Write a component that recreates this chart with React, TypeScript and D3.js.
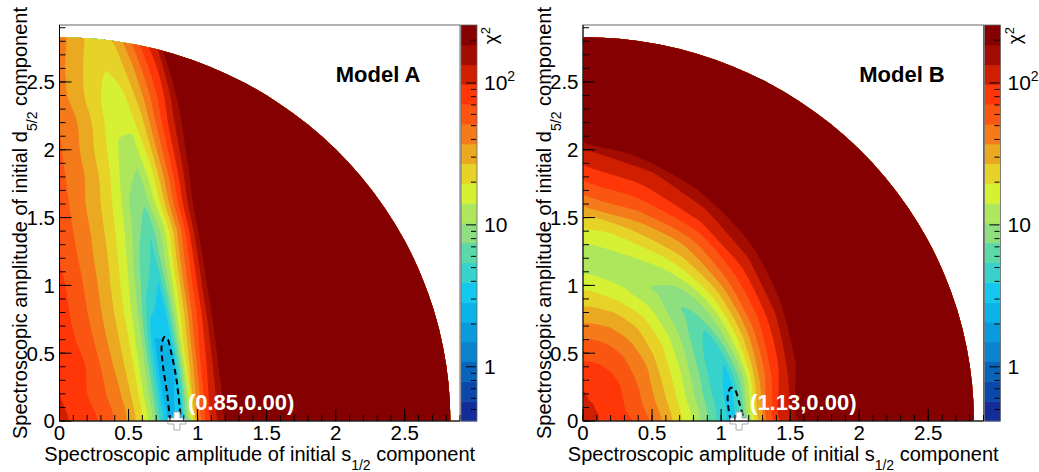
import React from 'react';
import * as d3 from 'd3';

const FONT = '"Liberation Sans", Arial, Helvetica, sans-serif';
const W = 1039;
const H = 472;

// colour scale: 20 log-spaced contour bands
const Z_MIN = 0.415;
const Z_MAX = 256;
const N_LEVELS = 20;
const PALETTE = [
  '#132c97', '#0c47ab', '#0864bb', '#0a82cc', '#0a9bdc',
  '#0cb3e7', '#14c8ef', '#36d2cb', '#5bd9a8', '#8ddf80',
  '#afe75c', '#d6f033', '#e7d327', '#eaa921', '#f47a1a',
  '#fb5512', '#fe3608', '#cf1e00', '#a30c00', '#850000',
];

// beyond the listed nodes the map is saturated (top colour)
const CHI2_SAT = 400;
const AMPLITUDE_LIMIT = 2.83; // s^2 + d^2 <= 8

// Model A: chi2 sampled on rows d = 0, 0.2 ... 3.0; along each row the nodes sit at
// s = k*0.1 - 0.18*d (rows follow the tilt of the valley)
const A_S_STEP = 0.1;
const A_D_STEP = 0.2;
const A_SHEAR = 0.18;
const modelAChi2 = [
  [112, 91, 79, 68, 50, 35, 21, 7.9, 2.0, 4.0, 37, 105, 178],
  [105, 87, 76, 63, 48, 35, 21, 8.7, 2.2, 3.3, 29, 89, 166, 380],
  [112, 93, 79, 66, 46, 33, 21, 9.5, 2.4, 2.75, 23, 74, 151, 355],
  [104, 88, 74, 62, 44, 32, 21, 10.5, 2.8, 2.9, 19, 62, 138, 316],
  [102, 85, 73, 60, 43, 32, 21, 11.5, 4.2, 3.2, 15.5, 51, 126, 295],
  [102, 87, 74, 61, 44, 33, 22, 12.9, 5.9, 3.8, 14.1, 47, 120, 295],
  [100, 86, 72, 60, 44, 34, 24, 14.5, 7.2, 4.9, 12.9, 42, 112, 282],
  [100, 87, 73, 59, 45, 35, 25, 16.2, 9.1, 5.6, 12, 36, 107, 275],
  [98, 85, 72, 60, 46, 35, 26, 17.4, 10, 7.8, 16.2, 44, 115, 275],
  [95, 83, 71, 59, 48, 38, 28, 19, 11.7, 9.5, 18.2, 45, 110, 240],
  [95, 83, 72, 60, 49, 38, 28, 20, 13.5, 12.3, 22, 50, 110, 224],
  [98, 83, 74, 62, 50, 40, 30, 21, 15.5, 15.8, 26, 54, 112, 209],
  [95, 83, 72, 58, 47, 36, 28, 21, 17, 19, 30, 56, 105, 219],
  [98, 85, 74, 60, 49, 38, 30, 23, 20, 23, 36, 65, 112, 263],
  [110, 95, 83, 68, 55, 43, 33, 26, 23, 28, 45, 81, 138, 363],
  [126, 110, 93, 76, 62, 48, 36, 29, 27, 33, 56, 100, 170],
];

// Model B: chi2 along rays from the origin, radius r = 0, 0.1, 0.2 ...
const B_ANGLES = [0, 15, 30, 45, 60, 75, 90];
const B_R_STEP = 0.1;
const modelBChi2 = [
  [107, 98, 89, 78, 65, 48, 33, 21, 13.2, 7.6, 4.4, 3.16, 8.9, 38, 85, 138, 234],
  [107, 100, 87, 74, 59, 44, 30, 19.5, 12, 7.2, 4.4, 3.5, 10, 33, 68, 117, 191],
  [107, 100, 89, 76, 62, 47, 33, 22, 14.5, 8.9, 5.5, 4.5, 10.7, 24, 48, 83, 132, 219],
  [107, 100, 91, 81, 68, 52, 41, 28, 20, 12.9, 8.7, 6.6, 9.5, 18.2, 34, 59, 91, 138, 214],
  [107, 102, 93, 83, 72, 59, 47, 35, 26, 18.2, 12.6, 9.8, 10.7, 16.6, 26, 40, 63, 98, 138, 219],
  [107, 102, 95, 87, 76, 62, 51, 39, 30, 21, 15.5, 12, 12, 15.8, 22, 34, 52, 76, 102, 132, 229],
  [107, 105, 100, 89, 76, 63, 51, 39, 30, 23, 17.4, 13.5, 12.3, 13.8, 17.4, 25, 39, 56, 76, 100, 132, 229],
];

// chi2_min + 1 contours (dashed)
const sigmaA: [number, number][] = [
  [0.80, 0], [0.78, 0.2], [0.75, 0.4], [0.74, 0.56], [0.76, 0.62],
  [0.78, 0.61], [0.81, 0.5], [0.84, 0.35], [0.86, 0.2], [0.88, 0],
];
const sigmaB: [number, number][] = [
  [1.07, 0], [1.05, 0.12], [1.05, 0.2], [1.07, 0.245], [1.10, 0.23],
  [1.13, 0.14], [1.16, 0.03], [1.17, 0],
];
const bestA: [number, number] = [0.85, 0];
const bestB: [number, number] = [1.13, 0];

const PLOT = { left: 59.5, right: 460, top: 25, bottom: 421 };
const PANEL_DX = 523.5;

const logMin = Math.log10(Z_MIN);
const logMax = Math.log10(Z_MAX);
const levels = d3.range(N_LEVELS + 1).map((k) => 10 ** (logMin + (k * (logMax - logMin)) / N_LEVELS));
const thresholds = levels.slice(1, N_LEVELS).map(Math.log10);

const A_N = 36;
const gridA = modelAChi2.flatMap((row) => d3.range(A_N).map((i) => row[i] ?? CHI2_SAT));
const layersA = d3.contours().size([A_N, modelAChi2.length]).thresholds(thresholds)(gridA.map(Math.log10));
const toDataA = (cx: number, cy: number) => {
  const d = (cy - 0.5) * A_D_STEP;
  return [(cx - 0.5) * A_S_STEP - A_SHEAR * d, d];
};

const B_M = 30;
const gridB = d3.range(B_M).flatMap((j) => modelBChi2.map((ray) => ray[j] ?? CHI2_SAT));
const layersB = d3.contours().size([B_ANGLES.length, B_M]).thresholds(thresholds)(gridB.map(Math.log10));
const B_DTH = B_ANGLES[1] - B_ANGLES[0];
const toDataB = (cx: number, cy: number) => {
  const th = (Math.max(0, Math.min(90, (cx - 0.5) * B_DTH)) * Math.PI) / 180;
  const r = Math.max(0, (cy - 0.5) * B_R_STEP);
  return [r * Math.cos(th), r * Math.sin(th)];
};

const fmt2 = d3.format('.2f');
const ringLine = d3.line<[number, number]>().curve(d3.curveCatmullRomClosed.alpha(0.5));

function Panel({ ox, id, name, layers, toData, sigma, best }: any) {
  const x = d3.scaleLinear().domain([0, 2.9]).range([ox + PLOT.left, ox + PLOT.right]);
  const y = d3.scaleLinear().domain([0, 2.92]).range([PLOT.bottom, PLOT.top]);
  const z = d3.scaleLog().domain([Z_MIN, Z_MAX]).range([PLOT.bottom, PLOT.top]);

  const path = (mp: any) =>
    mp.coordinates
      .flatMap((poly: number[][][]) =>
        poly.map((ring) =>
          ringLine(
            ring.slice(0, -1).map((p) => {
              const [a, b] = toData(p[0], p[1]);
              return [x(a), y(b)] as [number, number];
            })
          )
        )
      )
      .join('');

  const rx = x(AMPLITUDE_LIMIT) - x(0);
  const ry = y(0) - y(AMPLITUDE_LIMIT);
  const disk = `M${x(0)},${y(0)}L${x(AMPLITUDE_LIMIT)},${y(0)}A${rx},${ry} 0 0 0 ${x(0)},${y(AMPLITUDE_LIMIT)}Z`;

  const line = d3.line<[number, number]>().x((p) => x(p[0])).y((p) => y(p[1])).curve(d3.curveCatmullRom);
  const cross = d3.symbol(d3.symbolCross, 180)();

  const barX0 = ox + 461;
  const barX1 = ox + 477;
  const zTicks = z.ticks();
  const isMajor = (v: number) => Math.abs(Math.log10(v) - Math.round(Math.log10(v))) < 1e-6;

  const xMajor = x.ticks(6);
  const xMinor = x.ticks(30);
  const yMajor = y.ticks(6);
  const yMinor = y.ticks(30);

  const cx = ox + (PLOT.left + PLOT.right) / 2;
  const cy = (PLOT.top + PLOT.bottom) / 2;

  return (
    <g fontFamily={FONT}>
      <defs>
        <clipPath id={id}>
          <path d={disk} />
        </clipPath>
      </defs>
      <rect x={x(0)} y={PLOT.top} width={x(2.9) - x(0)} height={PLOT.bottom - PLOT.top} fill="#fff" />
      <g clipPath={`url(#${id})`}>
        <path d={disk} fill={PALETTE[0]} />
        {layers.map((mp: any, k: number) => (
          <path key={k} d={path(mp)} fill={PALETTE[k + 1]} fillRule="evenodd" />
        ))}
      </g>
      <path d={line(sigma) || ''} fill="none" stroke="#000" strokeWidth={2} strokeDasharray="6 4" />
      <path d={cross || ''} transform={`translate(${x(best[0])},${y(best[1])})`} fill="#fff" stroke="#aaa" strokeWidth={1} />
      <text x={x(best[0]) + 11} y={410} fill="#fff" fontWeight="bold" fontSize={22}>
        ({fmt2(best[0])},{fmt2(best[1])})
      </text>
      <text x={x(2.0)} y={y(2.5)} fontWeight="bold" fontSize={22} fill="#000">{name}</text>

      {/* frame */}
      <rect x={x(0)} y={PLOT.top} width={x(2.9) - x(0)} height={PLOT.bottom - PLOT.top} fill="none" stroke="#666" strokeWidth={1} />
      {xMinor.map((v) => (
        <line key={'xm' + v} x1={x(v)} x2={x(v)} y1={PLOT.bottom} y2={PLOT.bottom - 6} stroke="#000" />
      ))}
      {xMajor.map((v) => (
        <g key={'xM' + v}>
          <line x1={x(v)} x2={x(v)} y1={PLOT.bottom} y2={PLOT.bottom - 12} stroke="#000" />
          <text x={x(v)} y={440} textAnchor="middle" fontSize={20.5}>{String(v)}</text>
        </g>
      ))}
      {yMinor.map((v) => (
        <line key={'ym' + v} x1={x(0)} x2={x(0) + 6} y1={y(v)} y2={y(v)} stroke="#000" />
      ))}
      {yMajor.map((v) => (
        <g key={'yM' + v}>
          <line x1={x(0)} x2={x(0) + 12} y1={y(v)} y2={y(v)} stroke="#000" />
          <text x={ox + 55} y={y(v)} dy="0.36em" textAnchor="end" fontSize={20.5}>{String(v)}</text>
        </g>
      ))}
      <line x1={x(0)} x2={x(2.9)} y1={PLOT.bottom} y2={PLOT.bottom} stroke="#000" />
      <line x1={x(0)} x2={x(0)} y1={PLOT.top} y2={PLOT.bottom} stroke="#000" />

      {/* axis titles */}
      <text x={cx} y={461} textAnchor="middle" fontSize={20}>
        Spectroscopic amplitude of initial s<tspan dy={9} fontSize={14}>1/2</tspan>
        <tspan dy={-9}>{' component'}</tspan>
      </text>
      <text transform={`translate(${ox + 27},${cy}) rotate(-90)`} textAnchor="middle" fontSize={20}>
        Spectroscopic amplitude of initial d<tspan dy={10} fontSize={14}>5/2</tspan>
        <tspan dy={-10}>{' component'}</tspan>
      </text>

      {/* palette */}
      {d3.range(N_LEVELS).map((k) => (
        <rect key={'c' + k} x={barX0} width={barX1 - barX0} y={z(levels[k + 1])} height={z(levels[k]) - z(levels[k + 1]) + 0.5} fill={PALETTE[k]} />
      ))}
      <rect x={barX0} y={PLOT.top} width={barX1 - barX0} height={PLOT.bottom - PLOT.top} fill="none" stroke="#666" strokeWidth={0.8} />
      {zTicks.map((v) => (
        <line key={'z' + v} x1={barX1 - 1} x2={barX1 - 1 - (isMajor(v) ? 10 : 5)} y1={z(v)} y2={z(v)} stroke="#000" />
      ))}
      {zTicks.filter(isMajor).map((v) => (
        <text key={'zl' + v} x={ox + 484} y={z(v)} dy="0.36em" fontSize={21}>
          {v >= 100 ? (
            <>
              10<tspan dy={-9} fontSize={14}>{Math.round(Math.log10(v))}</tspan>
            </>
          ) : (
            String(v)
          )}
        </text>
      ))}
      <text transform={`translate(${ox + 497},${27}) rotate(-90)`} textAnchor="end" fontSize={19}>
        χ<tspan dy={-7} fontSize={13}>2</tspan>
      </text>
    </g>
  );
}

export default function App() {
  return (
    <svg width={W} height={H} style={{ position: 'absolute', left: 0, top: 0, background: '#fff' }}>
      <Panel ox={0} id="clipA" name="Model A" layers={layersA} toData={toDataA} sigma={sigmaA} best={bestA} />
      <Panel ox={PANEL_DX} id="clipB" name="Model B" layers={layersB} toData={toDataB} sigma={sigmaB} best={bestB} />
    </svg>
  );
}
